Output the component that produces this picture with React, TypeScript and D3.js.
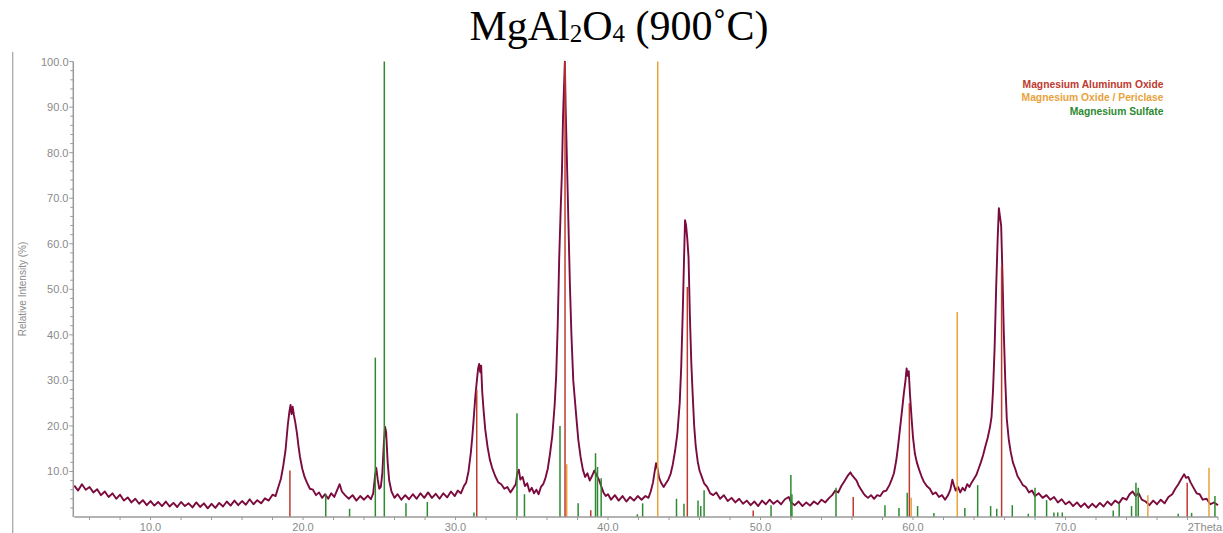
import React from "react";
import * as d3 from "d3";

const WIDTH = 1223;
const HEIGHT = 533;

// Measured diffraction pattern: [2θ (deg), relative intensity (%)]
const measured: [number, number][] = [
  [5.0, 6.9], [5.25, 5.8], [5.5, 7.2], [5.75, 6.0], [6.0, 6.6], [6.25, 5.4], [6.5, 6.1], [6.75, 4.8],
  [7.0, 5.6], [7.25, 4.4], [7.5, 5.2], [7.75, 4.0], [8.0, 4.9], [8.25, 3.6], [8.5, 4.3], [8.75, 3.2],
  [9.0, 4.0], [9.25, 2.9], [9.5, 3.7], [9.75, 2.6], [10.0, 3.5], [10.25, 2.5], [10.5, 3.3], [10.75, 2.4],
  [11.0, 3.4], [11.25, 2.3], [11.5, 3.1], [11.75, 2.2], [12.0, 3.3], [12.25, 2.4], [12.5, 3.0], [12.75, 2.1],
  [13.0, 3.2], [13.25, 2.2], [13.5, 3.0], [13.75, 1.9], [14.0, 2.9], [14.25, 2.0], [14.5, 3.1], [14.75, 2.3],
  [15.0, 3.4], [15.25, 2.5], [15.5, 3.6], [15.75, 2.6], [16.0, 3.5], [16.25, 2.7], [16.5, 3.9], [16.75, 2.8],
  [17.0, 3.7], [17.25, 3.0], [17.5, 4.1], [17.75, 3.6], [18.0, 4.9], [18.2, 4.6], [18.4, 6.8], [18.55, 8.4],
  [18.7, 11.2], [18.85, 14.6], [19.0, 20.2], [19.1, 23.0], [19.18, 24.6], [19.25, 22.6], [19.32, 24.2],
  [19.4, 22.4], [19.5, 20.6], [19.6, 18.4], [19.7, 15.6], [19.8, 13.2], [19.95, 10.6], [20.1, 8.8],
  [20.25, 7.6], [20.45, 6.2], [20.65, 6.0], [20.85, 4.8], [21.05, 5.4], [21.25, 4.2], [21.45, 5.0],
  [21.65, 4.0], [21.85, 5.2], [22.05, 4.4], [22.25, 6.0], [22.4, 7.2], [22.55, 5.6], [22.75, 4.8],
  [23.0, 4.0], [23.25, 4.8], [23.5, 3.6], [23.75, 4.6], [24.0, 3.8], [24.25, 4.7], [24.45, 3.9],
  [24.6, 5.2], [24.72, 9.0], [24.8, 10.8], [24.9, 8.2], [25.0, 6.2], [25.1, 6.6], [25.2, 9.6],
  [25.3, 16.2], [25.38, 19.8], [25.45, 18.6], [25.55, 12.0], [25.65, 8.0], [25.8, 5.6], [26.0, 4.2],
  [26.2, 5.0], [26.45, 3.8], [26.7, 4.8], [26.95, 3.9], [27.2, 5.0], [27.45, 4.0], [27.7, 5.2],
  [27.95, 4.2], [28.2, 5.4], [28.45, 4.2], [28.7, 5.1], [28.95, 4.0], [29.2, 5.2], [29.45, 4.3],
  [29.7, 5.6], [29.95, 4.6], [30.15, 5.8], [30.35, 5.2], [30.55, 6.8], [30.7, 7.6], [30.85, 10.0],
  [31.0, 14.0], [31.1, 17.6], [31.2, 22.0], [31.3, 26.5], [31.4, 30.0], [31.48, 32.6], [31.55, 33.6],
  [31.62, 31.8], [31.68, 33.2], [31.75, 27.5], [31.85, 23.0], [31.95, 19.2], [32.1, 15.4], [32.25, 12.6],
  [32.4, 10.8], [32.6, 9.0], [32.8, 7.6], [33.0, 7.2], [33.2, 6.2], [33.4, 6.6], [33.6, 5.4], [33.8, 6.4],
  [33.95, 7.2], [34.05, 9.6], [34.15, 10.4], [34.25, 8.2], [34.4, 8.8], [34.55, 6.8], [34.7, 7.4],
  [34.85, 5.6], [35.0, 6.4], [35.15, 5.2], [35.3, 6.0], [35.45, 5.0], [35.6, 6.6], [35.75, 7.2],
  [35.9, 8.6], [36.05, 10.6], [36.2, 14.0], [36.35, 18.0], [36.5, 24.6], [36.6, 31.0], [36.7, 42.0],
  [36.8, 57.0], [36.9, 68.0], [36.98, 76.0], [37.05, 88.0], [37.12, 95.0], [37.17, 100.0], [37.22, 90.0],
  [37.3, 79.0], [37.4, 65.0], [37.5, 51.0], [37.6, 40.0], [37.72, 30.0], [37.82, 26.0], [37.92, 22.0],
  [38.05, 17.0], [38.2, 13.2], [38.35, 10.4], [38.5, 8.8], [38.65, 9.6], [38.8, 8.0], [38.95, 9.0],
  [39.1, 10.2], [39.25, 9.2], [39.4, 8.2], [39.55, 6.8], [39.7, 5.4], [39.85, 4.6], [40.0, 5.0],
  [40.2, 3.8], [40.45, 4.8], [40.7, 3.6], [40.95, 4.6], [41.2, 3.4], [41.45, 4.4], [41.7, 3.6],
  [41.95, 4.6], [42.2, 3.8], [42.45, 4.6], [42.65, 4.2], [42.8, 5.6], [42.95, 7.6], [43.05, 9.8],
  [43.15, 11.8], [43.25, 10.6], [43.35, 8.6], [43.5, 7.4], [43.65, 6.6], [43.8, 7.4], [43.95, 8.2],
  [44.1, 9.4], [44.25, 11.6], [44.4, 14.6], [44.55, 18.4], [44.7, 25.0], [44.8, 33.0], [44.9, 45.0],
  [44.98, 56.0], [45.05, 65.2], [45.12, 64.0], [45.2, 61.0], [45.28, 57.0], [45.37, 44.0], [45.46, 34.0],
  [45.55, 27.0], [45.65, 20.0], [45.75, 15.6], [45.88, 12.2], [46.0, 10.2], [46.15, 8.8], [46.3, 7.4],
  [46.5, 6.6], [46.7, 5.2], [46.9, 4.8], [47.1, 5.4], [47.35, 4.0], [47.6, 4.8], [47.85, 3.5],
  [48.1, 4.2], [48.35, 3.2], [48.6, 4.0], [48.85, 2.9], [49.1, 3.6], [49.35, 2.6], [49.6, 3.4],
  [49.85, 2.4], [50.1, 3.6], [50.35, 2.8], [50.6, 3.8], [50.85, 2.9], [51.1, 3.6], [51.35, 2.8],
  [51.6, 3.9], [51.85, 4.4], [52.0, 3.2], [52.25, 2.6], [52.5, 3.4], [52.75, 2.4], [53.0, 3.2],
  [53.25, 2.5], [53.5, 3.4], [53.75, 2.8], [54.0, 3.8], [54.25, 3.2], [54.5, 4.2], [54.7, 4.8],
  [54.9, 5.8], [55.1, 5.4], [55.3, 6.8], [55.45, 7.6], [55.6, 8.4], [55.75, 9.2], [55.9, 9.8],
  [56.0, 9.2], [56.15, 8.6], [56.3, 8.0], [56.45, 6.8], [56.6, 6.0], [56.75, 5.2], [56.9, 4.6],
  [57.05, 4.2], [57.25, 4.8], [57.45, 4.0], [57.65, 4.8], [57.85, 4.6], [58.05, 5.6], [58.25, 5.8],
  [58.45, 7.0], [58.6, 8.2], [58.75, 9.6], [58.9, 12.4], [59.0, 15.0], [59.1, 18.0], [59.2, 21.0],
  [59.3, 24.0], [59.4, 27.2], [59.5, 29.8], [59.58, 32.6], [59.65, 31.0], [59.72, 32.0], [59.8, 27.0],
  [59.9, 22.0], [60.0, 17.5], [60.12, 14.0], [60.25, 12.0], [60.4, 10.4], [60.55, 9.0], [60.7, 7.8],
  [60.9, 6.8], [61.1, 6.2], [61.3, 5.0], [61.5, 5.4], [61.7, 4.4], [61.9, 4.8], [62.1, 3.8],
  [62.3, 4.8], [62.45, 6.0], [62.58, 8.2], [62.68, 7.0], [62.8, 5.8], [62.95, 6.6], [63.1, 5.4],
  [63.25, 6.4], [63.4, 5.8], [63.55, 7.2], [63.7, 6.6], [63.85, 7.6], [64.0, 8.4], [64.15, 9.2],
  [64.3, 10.6], [64.45, 12.0], [64.6, 13.6], [64.75, 15.6], [64.9, 17.4], [65.05, 19.8], [65.15, 22.0],
  [65.25, 28.0], [65.35, 37.0], [65.45, 50.0], [65.55, 61.0], [65.63, 67.8], [65.7, 66.0], [65.78, 64.0],
  [65.86, 54.0], [65.95, 41.0], [66.05, 30.0], [66.15, 21.5], [66.28, 17.0], [66.4, 14.4], [66.55, 12.0],
  [66.7, 10.6], [66.85, 9.0], [67.0, 8.2], [67.2, 7.0], [67.4, 6.6], [67.6, 5.4], [67.8, 5.8],
  [68.0, 4.6], [68.25, 5.2], [68.5, 4.2], [68.75, 4.8], [69.0, 3.8], [69.25, 4.4], [69.5, 3.2],
  [69.75, 3.9], [70.0, 2.8], [70.25, 3.4], [70.5, 2.4], [70.75, 3.2], [71.0, 2.2], [71.25, 3.0],
  [71.5, 2.0], [71.75, 2.9], [72.0, 2.1], [72.25, 3.1], [72.5, 2.3], [72.75, 3.4], [73.0, 2.6],
  [73.25, 3.6], [73.5, 3.0], [73.75, 4.2], [74.0, 3.8], [74.2, 5.0], [74.4, 5.6], [74.6, 4.6],
  [74.8, 5.2], [75.0, 3.8], [75.25, 3.4], [75.5, 2.6], [75.75, 3.6], [76.0, 2.8], [76.25, 3.8],
  [76.5, 3.0], [76.75, 4.4], [77.0, 5.0], [77.2, 6.2], [77.4, 7.2], [77.6, 8.4], [77.78, 9.4],
  [77.9, 8.6], [78.05, 8.8], [78.2, 7.6], [78.4, 6.4], [78.6, 5.2], [78.8, 5.0], [79.0, 3.8],
  [79.25, 4.0], [79.5, 2.8], [79.75, 3.2], [80.0, 2.6],
];

// Reference stick patterns: [2θ (deg), relative intensity (%)]
const aluminumOxideLines: [number, number][] = [
  [19.14, 10.2], [31.39, 28], [37.18, 100], [38.87, 1.5], [45.2, 50.5], [49.52, 1.4],
  [56.08, 4.4], [59.76, 25], [65.81, 55], [77.98, 7.5],
];

const periclaseLines: [number, number][] = [
  [37.29, 11.6], [43.26, 100], [59.88, 4.2], [62.9, 45], [75.4, 4.8], [79.41, 10.8],
];

const sulfateLines: [number, number][] = [
  [21.49, 5], [23.05, 1.8], [24.74, 35], [25.33, 100], [26.75, 3], [28.15, 3.3], [31.21, 1],
  [34.03, 22.8], [34.52, 5], [36.85, 20], [38.04, 3], [39.18, 14], [39.31, 11], [39.55, 8.5],
  [41.92, 0.6], [42.27, 3], [44.49, 4], [44.98, 2.9], [45.9, 3.6], [46.08, 2.4], [46.3, 5.9],
  [50.69, 2.6], [51.99, 9.2], [52.06, 5], [54.95, 6.4], [58.16, 2.6], [59.08, 2], [59.62, 5.3],
  [60.3, 2.4], [61.37, 0.9], [63.4, 2], [64.24, 7], [65.09, 2.4], [65.49, 1.8], [66.51, 2.6],
  [67.56, 0.7], [68.0, 6.4], [68.76, 3.7], [69.24, 1], [69.49, 1], [69.79, 1], [73.13, 1.4],
  [73.52, 3], [74.33, 2.4], [74.62, 7.5], [74.77, 6.4], [77.39, 0.7], [78.27, 0.9], [79.8, 4.6],
];

const legendNames = ["Magnesium Aluminum Oxide", "Magnesium Oxide / Periclase", "Magnesium Sulfate"];
const legendColors = ["#c0392f", "#e8a23c", "#2c8a30"];

const xLabelValues = [10, 20, 30, 40, 50, 60, 70];
const xEndLabel = "2Theta";
const yLabelValues = [10, 20, 30, 40, 50, 60, 70, 80, 90, 100];

const AXIS = "#9a9a9a";
const TEXT = "#8a8a8a";
const CURVE = "#7a0b3c";

export default function App() {
  const x = d3.scaleLinear().domain([5, 80]).range([74.3, 1218]);
  const y = d3.scaleLinear().domain([0, 100]).range([517, 61.6]);
  const x0 = x.range()[0];
  const y0 = y(0);

  const line = d3
    .line<[number, number]>()
    .x((d) => x(d[0]))
    .y((d) => y(d[1]));

  const xTicks = d3.range(6, 81, 2);
  const yTicks = d3.range(2, 101, 2);
  const fmt = d3.format(".1f");

  const sticks = (data: [number, number][], color: string, key: string) =>
    data.map((d, i) => (
      <line
        key={key + i}
        x1={x(d[0])}
        x2={x(d[0])}
        y1={y0}
        y2={y(d[1])}
        stroke={color}
        strokeWidth={1.5}
      />
    ));

  return (
    <svg
      width={WIDTH}
      height={HEIGHT}
      style={{ position: "absolute", left: 0, top: 0, background: "#fff" }}
      fontFamily="'Liberation Sans', Arial, sans-serif"
    >
      <rect width={WIDTH} height={HEIGHT} fill="#fff" />

      {/* title */}
      <text
        x={619}
        y={40}
        textAnchor="middle"
        fontFamily="'Liberation Serif', 'Times New Roman', serif"
        fontSize={42}
        fill="#000"
      >
        MgAl
        <tspan fontSize={25} dy={2}>2</tspan>
        <tspan dy={-2}>O</tspan>
        <tspan fontSize={25} dy={2}>4</tspan>
        <tspan dy={-2}> (900˚C)</tspan>
      </text>

      {/* frame line on the left */}
      <line x1={12.7} x2={12.7} y1={52} y2={HEIGHT} stroke="#a8a8a8" strokeWidth={1.3} />

      {/* y axis title */}
      <text
        transform={`translate(26,${289}) rotate(-90)`}
        textAnchor="middle"
        fontSize={10}
        fill={TEXT}
      >
        Relative Intensity (%)
      </text>

      {/* measured pattern */}
      <path d={line(measured) ?? ""} fill="none" stroke={CURVE} strokeWidth={1.9} strokeLinejoin="round" />

      {/* reference sticks */}
      {sticks(sulfateLines, legendColors[2], "s")}
      {sticks(periclaseLines, legendColors[1], "p")}
      {sticks(aluminumOxideLines, legendColors[0], "a")}

      {/* axes */}
      <line x1={x0} x2={x(80)} y1={y0} y2={y0} stroke={AXIS} strokeWidth={1.5} />
      <line x1={x0 - 1} x2={x0 - 1} y1={y0} y2={y(100)} stroke={AXIS} strokeWidth={1.5} />
      {xTicks.map((t) => (
        <line key={"xt" + t} x1={x(t)} x2={x(t)} y1={y0} y2={y0 + 3} stroke={AXIS} strokeWidth={1} />
      ))}
      {yTicks.map((t) => (
        <line
          key={"yt" + t}
          x1={x0 - 1}
          x2={x0 - (t % 10 === 0 ? 5 : 4)}
          y1={y(t)}
          y2={y(t)}
          stroke={AXIS}
          strokeWidth={1}
        />
      ))}
      {xLabelValues.map((t) => (
        <text key={"xl" + t} x={x(t)} y={531} textAnchor="middle" fontSize={11} fill={TEXT}>
          {fmt(t)}
        </text>
      ))}
      <text x={1222} y={531} textAnchor="end" fontSize={11} fill={TEXT}>
        {xEndLabel}
      </text>
      {yLabelValues.map((t) => (
        <text key={"yl" + t} x={68.5} y={y(t) + 4} textAnchor="end" fontSize={11} fill={TEXT}>
          {fmt(t)}
        </text>
      ))}

      {/* legend */}
      {legendNames.map((name, i) => (
        <text
          key={name}
          x={1163.5}
          y={88 + i * 13.4}
          textAnchor="end"
          fontSize={10.3}
          fontWeight="bold"
          fill={legendColors[i]}
        >
          {name}
        </text>
      ))}
    </svg>
  );
}
